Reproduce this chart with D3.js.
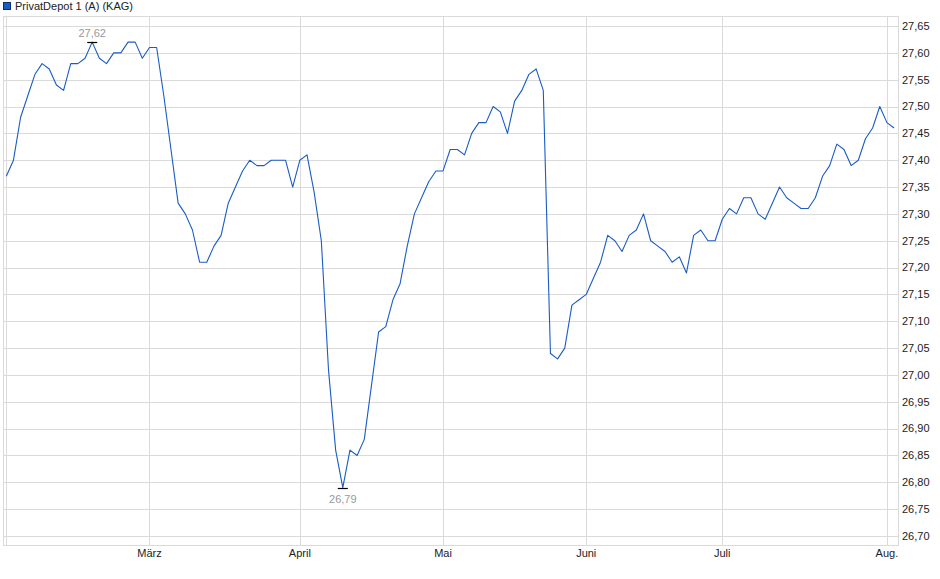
<!DOCTYPE html>
<html>
<head>
<meta charset="utf-8">
<script src="https://cdn.jsdelivr.net/npm/d3@7"></script>
<style>
  body { margin: 0; background: #fff; }
  svg { display: block; font-family: Arial, "Liberation Sans", sans-serif; }
</style>
</head>
<body>
<div id="chart"></div>
<script>
const seriesName = "PrivatDepot 1 (A) (KAG)";

// one value per trading day
const values = [
  27.37, 27.40, 27.48, 27.52, 27.56, 27.58, 27.57, 27.54, 27.53, 27.58,
  27.58, 27.59, 27.62, 27.59, 27.58, 27.60, 27.60, 27.62, 27.62, 27.59,
  27.61, 27.61, 27.52, 27.42, 27.32, 27.30, 27.27, 27.21, 27.21, 27.24,
  27.26, 27.32, 27.35, 27.38, 27.40, 27.39, 27.39, 27.40, 27.40, 27.40,
  27.35, 27.40, 27.41, 27.34, 27.25, 27.01, 26.86, 26.79, 26.86, 26.85,
  26.88, 26.98, 27.08, 27.09, 27.14, 27.17, 27.24, 27.30, 27.33, 27.36,
  27.38, 27.38, 27.42, 27.42, 27.41, 27.45, 27.47, 27.47, 27.50, 27.49,
  27.45, 27.51, 27.53, 27.56, 27.57, 27.53, 27.04, 27.03, 27.05, 27.13,
  27.14, 27.15, 27.18, 27.21, 27.26, 27.25, 27.23, 27.26, 27.27, 27.30,
  27.25, 27.24, 27.23, 27.21, 27.22, 27.19, 27.26, 27.27, 27.25, 27.25,
  27.29, 27.31, 27.30, 27.33, 27.33, 27.30, 27.29, 27.32, 27.35, 27.33,
  27.32, 27.31, 27.31, 27.33, 27.37, 27.39, 27.43, 27.42, 27.39, 27.40,
  27.44, 27.46, 27.50, 27.47, 27.46
];

// first trading day of each month (index into values)
const monthIndex = [0, 20, 41, 61, 81, 100, 123];
const monthLabels = ["", "März", "April", "Mai", "Juni", "Juli", "Aug."];

const yTicks = d3.range(26.70, 27.651, 0.05);

const width = 940, height = 579;
const frame = { left: 3, right: 898, top: 16, bottom: 545 };
const lineColor = "#1a5cc4";
const gridColor = "#dadada";

const svg = d3.select("#chart").append("svg")
  .attr("width", width)
  .attr("height", height)
  .attr("viewBox", [0, 0, width, height]);

const x = d3.scaleLinear()
  .domain([0, values.length - 1])
  .range([frame.left + 3.3, frame.right - 3.9]);

const y = d3.scaleLinear()
  .domain([26.70, 27.65])
  .range([536, 26]);

const fmt = v => d3.format(".2f")(v).replace(".", ",");

// horizontal grid
svg.append("g")
  .selectAll("line")
  .data(yTicks)
  .join("line")
  .attr("x1", frame.left)
  .attr("x2", frame.right)
  .attr("y1", d => Math.round(y(d)) + 0.5)
  .attr("y2", d => Math.round(y(d)) + 0.5)
  .attr("stroke", gridColor);

// vertical grid at month starts
svg.append("g")
  .selectAll("line")
  .data(monthIndex)
  .join("line")
  .attr("x1", d => Math.round(x(d)) + 0.5)
  .attr("x2", d => Math.round(x(d)) + 0.5)
  .attr("y1", frame.top)
  .attr("y2", frame.bottom + 1)
  .attr("stroke", gridColor);

// frame
svg.append("rect")
  .attr("x", frame.left + 0.5)
  .attr("y", frame.top + 0.5)
  .attr("width", frame.right - frame.left)
  .attr("height", frame.bottom - frame.top)
  .attr("fill", "none")
  .attr("stroke", gridColor);

// y labels on the right
svg.append("g")
  .selectAll("text")
  .data(yTicks)
  .join("text")
  .attr("x", frame.right + 4)
  .attr("y", d => y(d))
  .attr("dy", "0.35em")
  .style("font-size", "11px")
  .style("fill", "#222")
  .text(d => fmt(d));

// month labels
svg.append("g")
  .selectAll("text")
  .data(monthIndex)
  .join("text")
  .attr("x", d => x(d))
  .attr("y", frame.bottom + 12)
  .attr("text-anchor", "middle")
  .style("font-size", "11px")
  .style("fill", "#222")
  .text((d, i) => monthLabels[i]);

// price line
const line = d3.line()
  .x((d, i) => x(i))
  .y(d => y(d));

svg.append("path")
  .datum(values)
  .attr("fill", "none")
  .attr("stroke", lineColor)
  .attr("stroke-width", 1.1)
  .attr("stroke-linejoin", "round")
  .attr("d", line);

// high / low markers
const hi = d3.maxIndex(values);
const lo = d3.minIndex(values);

[[hi, -8.5], [lo, 11]].forEach(([i, off]) => {
  svg.append("line")
    .attr("x1", x(i) - 5)
    .attr("x2", x(i) + 5)
    .attr("y1", Math.round(y(values[i])) + 0.5)
    .attr("y2", Math.round(y(values[i])) + 0.5)
    .attr("stroke", "#000")
    .attr("stroke-width", 1.2);

  svg.append("text")
    .attr("x", x(i))
    .attr("y", y(values[i]) + off)
    .attr("dy", "0.35em")
    .attr("text-anchor", "middle")
    .style("font-size", "11px")
    .style("fill", "#999")
    .text(fmt(values[i]));
});

// legend
svg.append("rect")
  .attr("x", 3.5)
  .attr("y", 2.5)
  .attr("width", 7)
  .attr("height", 7)
  .attr("fill", lineColor)
  .attr("stroke", "#0d2f6e");

svg.append("text")
  .attr("x", 15)
  .attr("y", 6)
  .attr("dy", "0.35em")
  .style("font-size", "11px")
  .style("fill", "#222")
  .text(seriesName);
</script>
</body>
</html>
